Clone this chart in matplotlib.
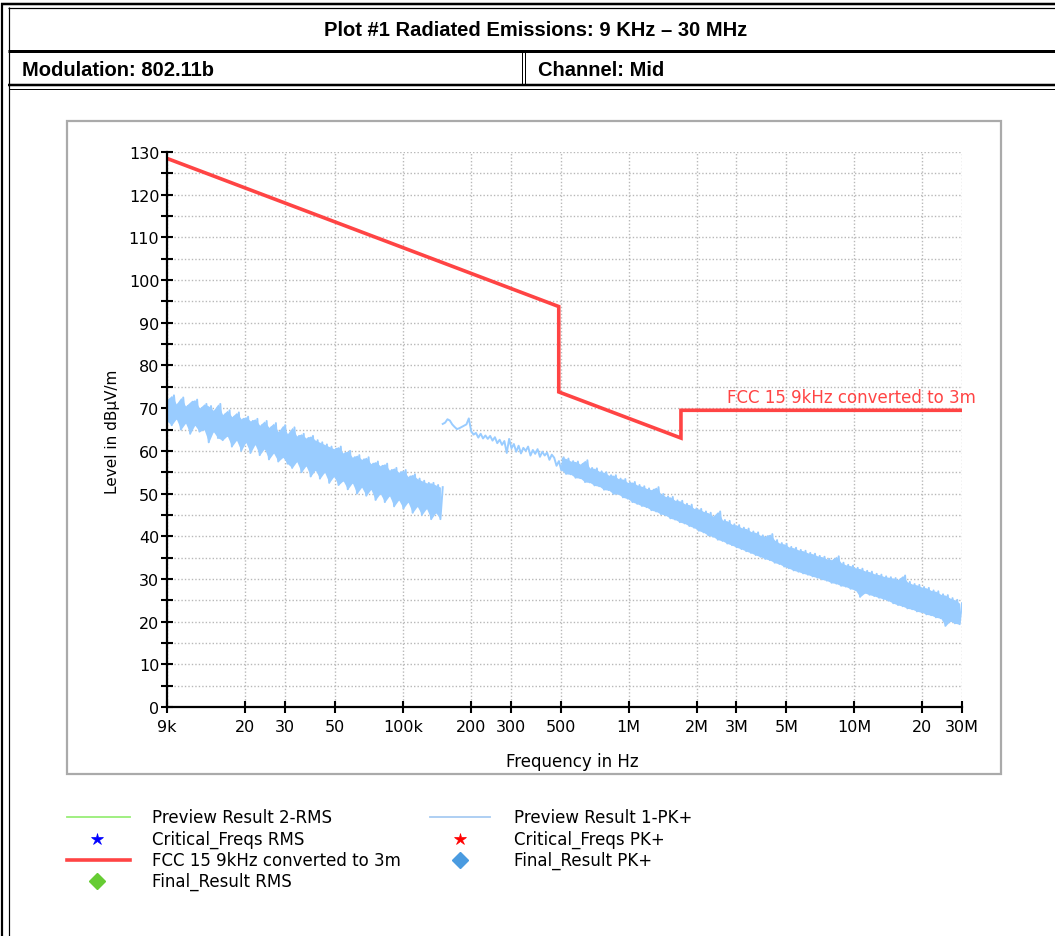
import numpy as np
import matplotlib
matplotlib.use("Agg")
import matplotlib.pyplot as plt
from matplotlib.ticker import MultipleLocator, NullLocator, FixedLocator
from matplotlib.patches import Rectangle

# ---------------- data ----------------
title = "Plot #1 Radiated Emissions: 9 KHz \u2013 30 MHz"
modulation = "Modulation: 802.11b"
channel = "Channel: Mid"

x_ticks = [9e3, 20e3, 30e3, 50e3, 100e3, 200e3, 300e3, 500e3,
           1e6, 2e6, 3e6, 5e6, 10e6, 20e6, 30e6]
x_ticklabels = ["9k", "20", "30", "50", "100k", "200", "300", "500",
                "1M", "2M", "3M", "5M", "10M", "20", "30M"]

# FCC 15.209 limit converted to 3 m
limit_freq = [9e3, 490e3, 490e3, 1.705e6, 1.705e6, 30e6]
limit_level = [128.5, 93.8, 73.8, 63.0, 69.5, 69.5]

# Preview Result 1-PK+ , subrange 1 (9 kHz - 150 kHz), sweep samples (low/high pairs)
pk_seg1_start, pk_seg1_stop = 9e3, 150e3
pk_seg1 = [
    67, 72, 66, 73, 67.5, 71, 65, 72.5, 66.5, 70.5,
    64, 71.5, 66, 72, 64.5, 70, 65, 71, 62, 70.5,
    64.5, 69.5, 63, 71, 62.5, 68.5, 63.5, 69.5, 61, 68,
    62.5, 69, 60, 67.5, 62, 68, 59.5, 67, 61.5, 67.5,
    59, 66, 60.5, 67, 58, 65.5, 59.5, 66.5, 57.5, 64.5,
    58.5, 66, 57, 64, 56, 65.5, 57.5, 63.5, 55, 64,
    56.5, 63, 54, 63.5, 55.5, 62.5, 53.5, 62, 55, 61.5,
    52.5, 61, 54, 60.5, 52, 61, 53, 59.5, 51, 60,
    52.5, 58.5, 50, 59, 51.5, 58, 49.5, 58.5, 51, 57,
    48.5, 57.5, 50, 56.5, 48, 57, 49.5, 55.5, 47, 56,
    48.5, 55, 46.5, 55.5, 48, 54, 45.5, 54.5, 47, 53.5,
    45, 53, 46.5, 52.5, 44, 52.5, 45.5, 52, 44, 51.5,
]

# Preview Result 1-PK+ , subrange 2 (150 kHz - 30 MHz), sweep samples
# (first 50 samples: single trace; from sample 50 on: low/high pairs)
pk_seg2_start, pk_seg2_stop = 150e3, 30e6
pk_seg2_band_from = 50
pk_seg2 = [
    66.3, 66.6, 67.4, 67.1, 66.2, 65.6, 65.1, 65.3, 65.6, 65.9,
    66.2, 67.6, 64.6, 63.8, 64.2, 63.1, 64.0, 62.9, 63.6, 62.8,
    63.5, 62.4, 63.2, 61.8, 62.6, 61.4, 62.3, 59.5, 62.8, 60.6,
    61.6, 59.8, 61.2, 59.4, 60.7, 60.0, 61.0, 58.9, 60.2, 59.3,
    60.4, 58.6, 59.8, 58.9, 59.6, 57.9, 59.1, 58.4, 56.5, 57.6,
    55.5, 58.5, 54.6, 58.2, 54.5, 57.6, 53.7, 57.5, 53.6, 56.9,
    52.7, 57.8, 52.6, 56.0, 51.9, 55.9, 51.7, 55.2, 50.9, 55.0,
    50.8, 54.3, 49.9, 54.3, 49.9, 53.5, 49.1, 53.4, 48.8, 52.6,
    48.0, 52.7, 47.6, 52.0, 47.1, 51.7, 46.8, 51.2, 46.1, 50.9,
    45.8, 51.5, 45.2, 49.9, 44.9, 49.3, 44.2, 49.2, 43.9, 48.4,
    43.3, 48.3, 43.0, 47.6, 42.4, 47.4, 42.0, 46.5, 41.3, 46.4,
    40.9, 45.8, 40.2, 45.5, 39.9, 44.7, 39.2, 45.8, 38.9, 43.8,
    38.3, 43.6, 37.9, 42.8, 37.4, 42.6, 37.0, 42.0, 36.5, 41.8,
    36.1, 41.1, 35.6, 40.9, 35.2, 40.2, 34.7, 40.0, 34.4, 40.5,
    33.8, 39.1, 33.5, 38.4, 32.9, 38.2, 32.5, 37.5, 32.0, 37.3,
    31.7, 36.8, 31.3, 36.6, 31.0, 36.1, 30.6, 35.9, 30.3, 35.4,
    29.9, 35.2, 29.6, 34.7, 29.1, 34.5, 28.9, 35.3, 28.4, 33.8,
    28.2, 33.3, 27.7, 33.1, 27.4, 32.6, 25.8, 32.4, 26.7, 31.9,
    26.3, 31.7, 26.0, 31.2, 25.6, 31.0, 25.3, 30.6, 24.9, 30.4,
    24.3, 30.2, 23.9, 29.9, 23.6, 30.8, 23.1, 29.3, 22.9, 28.8,
    22.4, 28.6, 22.2, 28.1, 21.7, 27.9, 21.5, 27.3, 21.0, 27.1,
    20.8, 26.4, 19.0, 26.2, 20.1, 25.5, 19.6, 25.1, 19.4, 24.3,
]

legend_labels = [
    "Preview Result 2-RMS", "Critical_Freqs RMS",
    "FCC 15 9kHz converted to 3m", "Final_Result RMS",
    "Preview Result 1-PK+", "Critical_Freqs PK+", "Final_Result PK+",
]

# ---------------- styles ----------------
C_PK = "#99CCFF"
C_LIM = "#FF4444"
C_RMS = "#99EE77"
FS_TICK = 11.5
HEAD_FONT = ["Liberation Sans", "DejaVu Sans"]

W, H = 1055, 937
fig = plt.figure(figsize=(W / 100, H / 100), dpi=100)

# background / frame layer in pixel coordinates
bg = fig.add_axes([0, 0, 1, 1])
bg.set_xlim(0, W)
bg.set_ylim(H, 0)
bg.axis("off")


def hline(y, x0, x1, lw_px):
    bg.plot([x0, x1], [y, y], color="black", lw=lw_px * 0.72, solid_capstyle="butt")


def vline(x, y0, y1, lw_px):
    bg.plot([x, x], [y0, y1], color="black", lw=lw_px * 0.72, solid_capstyle="butt")


hline(5, 1, W, 2.5)
hline(9, 8, W, 1.2)
hline(51.5, 8, W, 3)
hline(86, 8, W, 2.5)
hline(89.5, 9, W, 1)
vline(1.6, 4, H, 2.2)
vline(8.6, 8, H, 1.2)
vline(521.5, 51, 86, 1)
vline(525, 51, 86, 1)

bg.text(536, 31, title, ha="center", va="center", fontsize=14.5,
        fontweight="bold", family=HEAD_FONT)
bg.text(22, 70, modulation, ha="left", va="center", fontsize=14.5,
        fontweight="bold", family=HEAD_FONT)
bg.text(538, 70, channel, ha="left", va="center", fontsize=14.5,
        fontweight="bold", family=HEAD_FONT)

# chart panel border
bg.add_patch(Rectangle((67, 122), 934, 653, facecolor="white",
                       edgecolor="#AAAAAA", lw=1.6))

# legend (manual, in pixel coordinates)
LFS = 12
rows = [818, 840, 861, 882]
bg.plot([67, 130], [rows[0], rows[0]], color=C_RMS, lw=1.3)
bg.plot([97], [rows[1]], marker="*", color="#0000FF", ms=9, mew=0.5, ls="none")
bg.plot([67, 130], [rows[2], rows[2]], color=C_LIM, lw=2.6)
bg.plot([97], [rows[3]], marker="D", color="#66CC33", ms=8.5, ls="none")
bg.plot([430, 490], [rows[0], rows[0]], color="#A8CCF2", lw=1.3)
bg.plot([460], [rows[1]], marker="*", color="#FF0000", ms=9, mew=0.5, ls="none")
bg.plot([460], [rows[2]], marker="D", color="#4A9BE0", ms=8.5, ls="none")
for i, r in enumerate(rows):
    bg.text(152, r, legend_labels[i], ha="left", va="center", fontsize=LFS)
for i, r in enumerate(rows[:3]):
    bg.text(514, r, legend_labels[4 + i], ha="left", va="center", fontsize=LFS)

# ---------------- main chart ----------------
x0, x1, ytop, ybot = 167, 962, 153, 708
ax = fig.add_axes([x0 / W, (H - ybot) / H, (x1 - x0) / W, (ybot - ytop) / H])
ax.set_facecolor("none")
ax.set_xscale("log")
ax.set_xlim(9e3, 30e6)
ax.set_ylim(0, 130)

f1 = np.geomspace(pk_seg1_start, pk_seg1_stop, len(pk_seg1))
f2 = np.geomspace(pk_seg2_start, pk_seg2_stop, len(pk_seg2))
v1 = np.asarray(pk_seg1)
v2 = np.asarray(pk_seg2)
b = pk_seg2_band_from

# dense sweep band (the trace zig-zags between these samples)
ax.fill_between(f1[0::2], v1[0::2], v1[1::2], color=C_PK, lw=0, zorder=3)
ax.fill_between(f2[b::2], v2[b::2], v2[b + 1::2], color=C_PK, lw=0, zorder=3)
ax.plot(f1, v1, color=C_PK, lw=1.4, zorder=3)
ax.plot(f2, v2, color=C_PK, lw=1.4, zorder=3)

ax.plot(limit_freq, limit_level, color=C_LIM, lw=2.6, zorder=4,
        solid_joinstyle="miter")
ax.text(2.73e6, 70.6, "FCC 15 9kHz converted to 3m", color=C_LIM,
        fontsize=12, ha="left", va="bottom", clip_on=False, zorder=5)

ax.xaxis.set_major_locator(FixedLocator(x_ticks))
ax.set_xticklabels(x_ticklabels)
ax.xaxis.set_minor_locator(NullLocator())
ax.yaxis.set_major_locator(MultipleLocator(10))
ax.yaxis.set_minor_locator(MultipleLocator(5))

for s in ["top", "right"]:
    ax.spines[s].set_visible(False)
for s in ["left", "bottom"]:
    ax.spines[s].set_linewidth(1.6)
    ax.spines[s].set_zorder(6)

ax.tick_params(axis="both", which="both", direction="inout", length=9,
               width=1.5, colors="black", labelsize=FS_TICK)
ax.tick_params(axis="y", which="major", pad=1)
ax.tick_params(axis="x", which="major", pad=4)

gkw = dict(color="#B8B8B8", lw=1.0, ls=(0, (1, 1.5)))
ax.grid(True, axis="y", which="both", **gkw)
ax.grid(True, axis="x", which="major", **gkw)
ax.set_axisbelow(True)

fig.text(113 / W, 1 - 432 / H, "Level in dB\u00b5V/m", rotation=90,
         ha="center", va="center", fontsize=11)
fig.text(572 / W, 1 - 762 / H, "Frequency in Hz", ha="center", va="center",
         fontsize=12)

fig.savefig("out.png", dpi=100)
